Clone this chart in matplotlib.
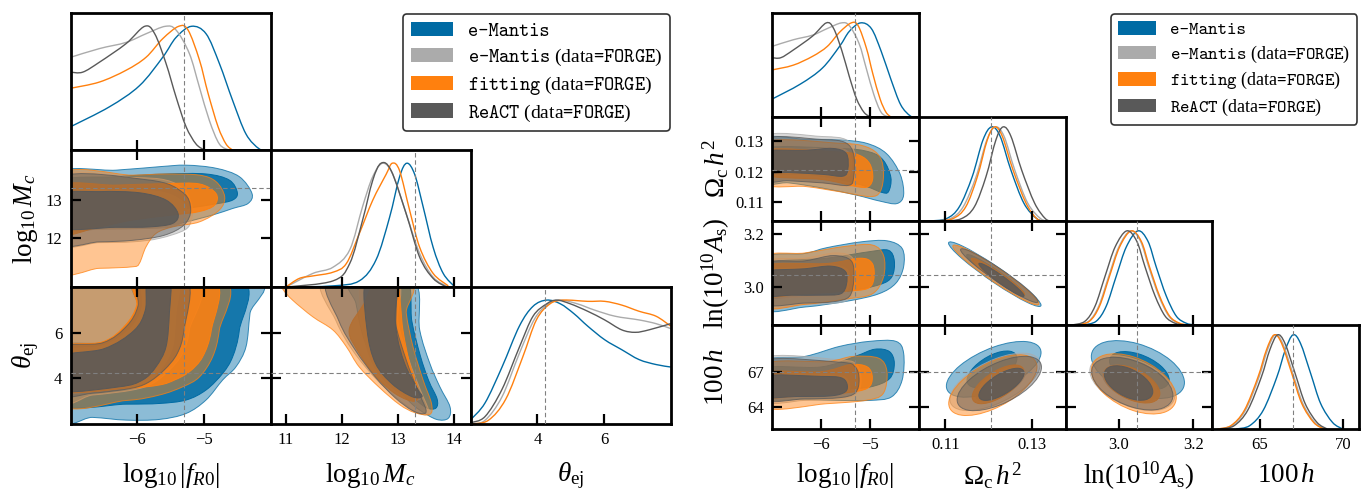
import numpy as np
import matplotlib.pyplot as plt
from matplotlib.path import Path
from matplotlib.patches import PathPatch, Patch
from matplotlib.transforms import Affine2D

plt.rcParams['font.family'] = ['Liberation Serif', 'DejaVu Serif']
plt.rcParams['mathtext.fontset'] = 'custom'
plt.rcParams['mathtext.rm'] = 'Liberation Serif'
plt.rcParams['mathtext.it'] = 'Liberation Serif:italic'
plt.rcParams['mathtext.bf'] = 'Liberation Serif:bold'

# models, in drawing order (names in typewriter, the rest in serif via mathtext)
colors = ['#006BA4', '#ABABAB', '#FF800E', '#595959']
labels = ['e-Mantis',
          r'e-Mantis$\mathrm{\ (data}$=FORGE$\mathrm{)}$',
          r'fitting$\mathrm{\ (data}$=FORGE$\mathrm{)}$',
          r'ReACT$\mathrm{\ (data}$=FORGE$\mathrm{)}$']

# ---------------- 1D marginals (x, normalised density), one list per model
fr0_pdf = [
    [(-7.0, 0.19), (-6.42, 0.35), (-5.97, 0.52), (-5.62, 0.75), (-5.42, 0.91), (-5.19, 1.0),
     (-4.97, 0.94), (-4.77, 0.70), (-4.57, 0.40), (-4.37, 0.13), (-4.17, 0.01), (-4.04, 0.0)],
    [(-7.0, 0.75), (-6.57, 0.82), (-6.17, 0.87), (-5.87, 0.94), (-5.58, 1.0), (-5.42, 0.97),
     (-5.22, 0.78), (-5.07, 0.51), (-4.92, 0.24), (-4.77, 0.05), (-4.62, 0.0)],
    [(-7.0, 0.50), (-6.57, 0.55), (-6.17, 0.645), (-5.87, 0.75), (-5.62, 0.90), (-5.38, 1.0),
     (-5.24, 0.97), (-5.07, 0.73), (-4.94, 0.46), (-4.79, 0.19), (-4.67, 0.05), (-4.57, 0.0)],
    [(-7.0, 0.63), (-6.82, 0.63), (-6.57, 0.71), (-6.17, 0.86), (-5.89, 1.0), (-5.74, 0.94),
     (-5.57, 0.70), (-5.42, 0.43), (-5.27, 0.19), (-5.12, 0.05), (-4.99, 0.0)],
]
mc_pdf = [
    [(11.0, 0.0), (11.84, 0.01), (12.31, 0.05), (12.61, 0.22), (12.85, 0.56), (13.03, 0.89),
     (13.16, 1.0), (13.30, 0.91), (13.45, 0.65), (13.63, 0.32), (13.81, 0.11), (14.02, 0.0)],
    [(11.0, 0.0), (11.48, 0.11), (11.84, 0.16), (12.14, 0.30), (12.37, 0.65), (12.55, 0.89),
     (12.73, 1.0), (12.91, 0.91), (13.15, 0.59), (13.39, 0.27), (13.63, 0.08), (13.9, 0.0)],
    [(11.0, 0.0), (11.24, 0.07), (11.48, 0.09), (11.84, 0.12), (12.08, 0.19), (12.31, 0.43),
     (12.55, 0.70), (12.79, 0.91), (12.9, 1.0), (13.03, 0.94), (13.21, 0.62), (13.39, 0.32),
     (13.63, 0.11), (13.9, 0.01)],
    [(11.0, 0.0), (11.84, 0.05), (12.14, 0.19), (12.37, 0.54), (12.55, 0.86), (12.70, 1.0),
     (12.88, 0.94), (13.15, 0.59), (13.39, 0.24), (13.63, 0.07), (13.87, 0.0)],
]
theta_pdf = [
    [(2.0, 0.035), (2.43, 0.17), (2.94, 0.46), (3.46, 0.79), (3.87, 0.95), (4.28, 1.0), (4.69, 0.97),
     (5.10, 0.89), (5.51, 0.79), (6.02, 0.68), (6.53, 0.60), (7.05, 0.52), (7.56, 0.48), (8.0, 0.46)],
    [(2.0, 0.0), (2.43, 0.03), (2.94, 0.22), (3.46, 0.57), (3.92, 0.85), (4.33, 0.97), (4.69, 1.0),
     (5.2, 0.97), (5.71, 0.92), (6.33, 0.87), (7.05, 0.84), (7.56, 0.81), (8.0, 0.77)],
    [(2.0, 0.0), (2.53, 0.03), (3.05, 0.2), (3.56, 0.54), (3.97, 0.84), (4.38, 0.97), (4.79, 1.0),
     (5.51, 0.99), (6.02, 0.99), (6.53, 0.96), (7.05, 0.91), (7.56, 0.87), (8.0, 0.79)],
    [(2.0, 0.01), (2.43, 0.06), (2.94, 0.28), (3.46, 0.62), (3.87, 0.87), (4.28, 0.97), (4.58, 1.0),
     (4.99, 0.97), (5.51, 0.91), (6.02, 0.84), (6.53, 0.76), (6.94, 0.74), (7.35, 0.76), (8.0, 0.81)],
]
omc_pdf = [
    [(0.1062, 0.0), (0.1102, 0.025), (0.1132, 0.15), (0.1162, 0.47), (0.1187, 0.86), (0.1207, 1.0),
     (0.1227, 0.90), (0.1252, 0.54), (0.1282, 0.19), (0.1312, 0.025), (0.1332, 0.0)],
    [(0.1071, 0.0), (0.1111, 0.025), (0.1141, 0.15), (0.1171, 0.47), (0.1196, 0.86), (0.1216, 1.0),
     (0.1236, 0.90), (0.1261, 0.54), (0.1291, 0.19), (0.1321, 0.025), (0.1341, 0.0)],
    [(0.1077, 0.0), (0.1117, 0.025), (0.1147, 0.15), (0.1174, 0.47), (0.1197, 0.86), (0.1214, 1.0),
     (0.1232, 0.90), (0.1257, 0.54), (0.1287, 0.19), (0.1312, 0.025), (0.1330, 0.0)],
    [(0.1097, 0.0), (0.1137, 0.025), (0.1167, 0.15), (0.1194, 0.47), (0.1217, 0.86), (0.1234, 1.0),
     (0.1252, 0.90), (0.1277, 0.54), (0.1307, 0.19), (0.1332, 0.025), (0.1347, 0.0)],
]
as_pdf = [
    [(2.904, 0.0), (2.939, 0.04), (2.966, 0.2), (2.993, 0.52), (3.02, 0.83), (3.051, 1.0),
     (3.078, 0.89), (3.1, 0.62), (3.127, 0.31), (3.154, 0.095), (3.18, 0.02), (3.203, 0.0)],
    [(2.884, 0.0), (2.919, 0.04), (2.946, 0.2), (2.973, 0.52), (3.0, 0.83), (3.031, 1.0),
     (3.058, 0.89), (3.08, 0.62), (3.107, 0.31), (3.134, 0.095), (3.16, 0.02), (3.183, 0.0)],
    [(2.886, 0.0), (2.921, 0.04), (2.948, 0.2), (2.975, 0.52), (3.002, 0.83), (3.033, 1.0),
     (3.06, 0.89), (3.082, 0.62), (3.109, 0.31), (3.136, 0.095), (3.162, 0.02), (3.185, 0.0)],
    [(2.874, 0.0), (2.909, 0.04), (2.936, 0.2), (2.963, 0.52), (2.99, 0.83), (3.021, 1.0),
     (3.048, 0.89), (3.07, 0.62), (3.097, 0.31), (3.124, 0.095), (3.15, 0.02), (3.173, 0.0)],
]
h_pdf = [
    [(63.58, 0.0), (64.39, 0.036), (65.2, 0.2), (66.01, 0.55), (66.52, 0.84), (66.98, 1.0),
     (67.43, 0.91), (68.04, 0.59), (68.64, 0.27), (69.35, 0.07), (69.96, 0.0)],
    [(62.51, 0.0), (63.32, 0.036), (64.13, 0.2), (64.94, 0.55), (65.45, 0.84), (65.91, 1.0),
     (66.36, 0.91), (66.97, 0.59), (67.57, 0.27), (68.28, 0.07), (68.89, 0.0)],
    [(62.45, 0.0), (63.26, 0.036), (64.07, 0.2), (64.88, 0.55), (65.39, 0.84), (65.85, 1.0),
     (66.3, 0.91), (66.91, 0.59), (67.51, 0.27), (68.22, 0.07), (68.83, 0.0)],
    [(62.65, 0.0), (63.46, 0.036), (64.27, 0.2), (65.08, 0.55), (65.59, 0.84), (66.05, 1.0),
     (66.5, 0.91), (67.11, 0.59), (67.71, 0.27), (68.42, 0.07), (69.03, 0.0)],
]

# ---------------- 2D contours: (95% outline, 68% outline) per model
fr0_mc_cont = [
    ([(-7.2, 13.70), (-6.32, 13.78), (-5.67, 13.87), (-5.27, 13.91), (-4.82, 13.83), (-4.47, 13.61),
      (-4.28, 13.17), (-4.34, 12.91), (-4.57, 12.78), (-4.87, 12.61), (-5.27, 12.43), (-5.67, 12.30),
      (-6.07, 12.28), (-6.57, 12.30), (-7.2, 12.35)],
     [(-7.2, 13.48), (-6.32, 13.61), (-5.57, 13.68), (-4.97, 13.68), (-4.62, 13.52), (-4.5, 13.19),
      (-4.57, 13.0), (-4.82, 12.90), (-5.27, 12.78), (-5.82, 12.65), (-6.42, 12.57), (-7.2, 12.57)]),
    ([(-7.2, 13.61), (-6.07, 13.59), (-5.57, 13.52), (-5.29, 13.26), (-5.18, 12.83), (-5.19, 12.48),
      (-5.29, 12.22), (-5.67, 12.0), (-6.07, 11.91), (-6.57, 11.89), (-7.2, 11.89)],
     [(-7.2, 13.17), (-6.32, 13.26), (-5.67, 13.22), (-5.35, 13.0), (-5.25, 12.7), (-5.3, 12.45),
      (-5.5, 12.3), (-5.82, 12.26), (-6.57, 12.24), (-7.2, 12.22)]),
    ([(-7.2, 13.61), (-6.07, 13.65), (-5.57, 13.68), (-5.07, 13.65), (-4.82, 13.48), (-4.69, 13.09),
      (-4.77, 12.74), (-5.07, 12.43), (-5.47, 12.30), (-5.72, 12.13), (-5.87, 11.78), (-5.97, 11.35),
      (-6.07, 11.26), (-6.57, 11.22), (-7.2, 11.22)],
     [(-7.2, 13.35), (-6.32, 13.39), (-5.57, 13.43), (-5.07, 13.42), (-4.82, 13.17), (-4.84, 12.87),
      (-5.07, 12.70), (-5.47, 12.61), (-6.07, 12.48), (-6.57, 12.30), (-7.2, 12.13)]),
    ([(-7.2, 13.57), (-5.82, 13.52), (-5.32, 13.2), (-5.2, 12.75), (-5.3, 12.35), (-5.6, 12.08),
      (-6.07, 11.95), (-6.57, 11.91), (-7.2, 11.91)],
     [(-7.2, 13.13), (-6.57, 13.22), (-5.97, 13.19), (-5.57, 13.0), (-5.39, 12.65), (-5.47, 12.39),
      (-5.82, 12.30), (-6.32, 12.29), (-7.2, 12.29)]),
]
fr0_theta_cont = [
    ([(-7.2, 7.2), (-6.5, 8.3), (-4.24, 8.3), (-4.31, 6.85), (-4.37, 5.39), (-4.52, 4.51), (-4.72, 3.93),
      (-4.97, 3.05), (-5.27, 2.46), (-5.67, 2.2), (-6.17, 2.17), (-6.67, 2.29), (-7.2, 2.32)],
     [(-5.97, 8.3), (-4.43, 8.3), (-4.47, 6.12), (-4.57, 4.95), (-4.72, 4.22), (-4.97, 3.49),
      (-5.27, 3.05), (-5.67, 2.9), (-6.17, 2.87), (-7.2, 2.87), (-7.2, 5.3), (-6.52, 5.58),
      (-6.17, 6.3), (-6.0, 7.18)]),
    ([(-7.2, 8.3), (-5.17, 8.3), (-5.22, 6.12), (-5.32, 5.1), (-5.52, 4.36), (-5.77, 3.78),
      (-6.07, 3.49), (-6.67, 3.27), (-7.2, 3.2)],
     [(-5.9, 8.3), (-5.4, 8.3), (-5.42, 6.85), (-5.47, 5.39), (-5.62, 4.51), (-5.82, 3.93),
      (-6.17, 3.6), (-7.2, 3.45), (-7.2, 5.1), (-6.5, 5.45), (-6.1, 6.2), (-5.93, 7.1)]),
    ([(-7.2, 7.3), (-6.4, 8.3), (-4.71, 8.3), (-4.77, 6.12), (-4.87, 4.95), (-5.07, 4.06),
      (-5.32, 3.63), (-5.67, 3.27), (-6.17, 3.03), (-7.2, 2.97)],
     [(-5.99, 8.3), (-4.84, 8.3), (-4.89, 6.12), (-5.02, 4.95), (-5.22, 4.29), (-5.44, 3.93),
      (-5.67, 3.71), (-6.17, 3.56), (-7.2, 3.49), (-7.2, 5.3), (-6.52, 5.6), (-6.18, 6.33),
      (-6.01, 7.2)]),
    ([(-5.97, 8.3), (-5.25, 8.3), (-5.3, 6.12), (-5.4, 5.1), (-5.6, 4.36), (-5.85, 3.8),
      (-6.12, 3.55), (-6.67, 3.35), (-7.2, 3.3), (-7.2, 5.27), (-6.52, 5.56), (-6.16, 6.29),
      (-5.99, 7.17)],
     [(-5.84, 8.3), (-5.52, 8.3), (-5.52, 6.85), (-5.57, 5.39), (-5.72, 4.51), (-5.92, 3.93),
      (-6.27, 3.63), (-7.2, 3.49), (-7.2, 4.9), (-6.5, 5.3), (-6.05, 6.1), (-5.88, 7.0)]),
]
mc_theta_cont = [
    ([(12.15, 8.3), (13.27, 8.3), (13.39, 6.12), (13.57, 4.66), (13.75, 3.63), (13.93, 2.76),
      (13.9, 2.25), (13.69, 2.2), (13.39, 2.61), (13.2, 3.0), (12.95, 3.7), (12.7, 4.5),
      (12.45, 5.4), (12.33, 6.3), (12.25, 7.3)],
     [(12.45, 8.3), (13.15, 8.3), (13.25, 6.5), (13.4, 5.0), (13.55, 3.9), (13.7, 3.1),
      (13.68, 2.7), (13.52, 2.7), (13.3, 3.1), (13.05, 3.7), (12.8, 4.5), (12.6, 5.5), (12.5, 6.8)]),
    ([(11.66, 8.3), (12.95, 8.3), (13.0, 6.5), (13.2, 4.8), (13.4, 3.5), (13.55, 2.6),
      (13.5, 2.4), (13.3, 2.55), (13.0, 3.1), (12.6, 4.0), (12.2, 5.2), (11.9, 6.5)],
     [(12.35, 8.3), (12.9, 8.3), (12.95, 6.12), (13.1, 4.66), (13.32, 3.55), (13.4, 3.1),
      (13.2, 3.12), (12.85, 3.7), (12.55, 4.66), (12.38, 6.12)]),
    ([(10.9, 8.3), (13.12, 8.3), (13.15, 6.85), (13.27, 5.39), (13.45, 3.93), (13.6, 2.9),
      (13.57, 2.42), (13.3, 2.5), (13.03, 2.85), (12.67, 3.6), (12.31, 4.5), (12.08, 5.39),
      (11.84, 6.12), (11.48, 6.7), (11.12, 7.43), (10.95, 7.9)],
     [(12.61, 8.3), (12.97, 8.3), (13.09, 6.12), (13.21, 4.66), (13.36, 3.49), (13.3, 3.0),
      (12.97, 3.3), (12.61, 4.07), (12.31, 5.1), (12.13, 6.12), (12.4, 7.3)]),
    ([(11.75, 8.3), (12.9, 8.3), (12.95, 6.5), (13.15, 4.8), (13.35, 3.5), (13.5, 2.65),
      (13.45, 2.45), (13.25, 2.6), (12.95, 3.15), (12.6, 4.05), (12.25, 5.2), (11.95, 6.5)],
     [(12.43, 8.3), (12.93, 8.3), (12.97, 6.12), (13.12, 4.66), (13.35, 3.55), (13.43, 3.2),
      (13.25, 3.2), (12.9, 3.75), (12.6, 4.66), (12.45, 6.12)]),
]
fr0_omc_cont = [
    ([(-7.2, 0.1305), (-6.31, 0.1306), (-5.62, 0.1304), (-5.07, 0.1293), (-4.66, 0.1259), (-4.38, 0.1191),
      (-4.31, 0.1123), (-4.45, 0.1095), (-4.79, 0.1103), (-5.28, 0.1123), (-5.97, 0.1146),
      (-6.66, 0.1163), (-7.2, 0.1168)],
     [(-7.2, 0.1276), (-5.62, 0.1276), (-5.0, 0.1264), (-4.72, 0.1236), (-4.57, 0.1180), (-4.62, 0.1134),
      (-4.76, 0.1132), (-5.07, 0.1151), (-5.62, 0.1174), (-6.31, 0.1191), (-7.2, 0.1197)]),
    ([(-7.2, 0.1315), (-5.97, 0.1315), (-5.48, 0.1304), (-5.31, 0.1259), (-5.31, 0.118), (-5.41, 0.1151),
      (-5.97, 0.1163), (-6.66, 0.1174), (-7.2, 0.118)],
     [(-7.2, 0.1268), (-6.31, 0.1273), (-5.7, 0.1278), (-5.42, 0.126), (-5.38, 0.1205), (-5.5, 0.1182),
      (-5.97, 0.1188), (-6.66, 0.1194), (-7.2, 0.1197)]),
    ([(-7.2, 0.1295), (-5.62, 0.1293), (-5.07, 0.1281), (-4.79, 0.1247), (-4.72, 0.1191), (-4.79, 0.1134),
      (-5.0, 0.1118), (-5.62, 0.1134), (-6.31, 0.1151), (-7.2, 0.1163)],
     [(-7.2, 0.127), (-5.62, 0.1264), (-5.21, 0.1253), (-5.0, 0.1225), (-4.94, 0.118), (-5.03, 0.1151),
      (-5.28, 0.1151), (-5.97, 0.1174), (-7.2, 0.1191)]),
    ([(-7.2, 0.1305), (-5.97, 0.1305), (-5.5, 0.1295), (-5.33, 0.1255), (-5.33, 0.1185), (-5.43, 0.1155),
      (-5.97, 0.1163), (-6.66, 0.117), (-7.2, 0.1175)],
     [(-7.2, 0.1264), (-6.31, 0.127), (-5.76, 0.1276), (-5.48, 0.1259), (-5.45, 0.1208), (-5.55, 0.1185),
      (-5.97, 0.1191), (-6.66, 0.1197), (-7.2, 0.12)]),
]
fr0_as_cont = [
    ([(-7.2, 3.105), (-6.33, 3.128), (-5.88, 3.15), (-5.18, 3.172), (-4.65, 3.176), (-4.34, 3.147),
      (-4.31, 3.078), (-4.47, 3.015), (-4.82, 2.975), (-5.44, 2.948), (-6.33, 2.925), (-7.2, 2.92)],
     [(-7.2, 3.085), (-5.88, 3.11), (-5.0, 3.135), (-4.62, 3.14), (-4.5, 3.1), (-4.55, 3.04),
      (-4.8, 3.01), (-5.44, 2.985), (-6.33, 2.97), (-7.2, 2.965)]),
    ([(-7.2, 3.09), (-6.33, 3.11), (-5.7, 3.13), (-5.35, 3.11), (-5.3, 3.03), (-5.4, 2.96),
      (-5.7, 2.94), (-6.33, 2.935), (-7.2, 2.93)],
     [(-7.2, 3.06), (-6.33, 3.075), (-5.78, 3.085), (-5.45, 3.065), (-5.43, 3.01), (-5.55, 2.975),
      (-6.0, 2.968), (-7.2, 2.965)]),
    ([(-7.2, 3.11), (-6.33, 3.13), (-5.5, 3.155), (-4.95, 3.16), (-4.72, 3.12), (-4.72, 3.04),
      (-4.95, 2.975), (-5.5, 2.955), (-6.33, 2.935), (-7.2, 2.93)],
     [(-7.2, 3.08), (-5.88, 3.09), (-5.2, 3.11), (-4.95, 3.09), (-4.92, 3.03), (-5.05, 2.995),
      (-5.5, 2.985), (-6.33, 2.975), (-7.2, 2.97)]),
    ([(-7.2, 3.085), (-6.33, 3.1), (-5.75, 3.12), (-5.38, 3.1), (-5.33, 3.03), (-5.42, 2.965),
      (-5.75, 2.945), (-6.33, 2.94), (-7.2, 2.94)],
     [(-7.2, 3.055), (-6.33, 3.07), (-5.8, 3.08), (-5.5, 3.06), (-5.48, 3.01), (-5.6, 2.975),
      (-6.0, 2.97), (-6.6, 2.97), (-7.2, 2.97)]),
]
fr0_h_cont = [
    ([(-7.2, 67.86), (-6.33, 68.29), (-5.62, 69.14), (-5.0, 69.57), (-4.47, 69.57), (-4.31, 68.57),
      (-4.34, 66.29), (-4.56, 64.86), (-5.0, 64.57), (-5.62, 64.57), (-6.33, 64.66), (-7.2, 64.86)],
     [(-7.2, 67.3), (-6.0, 67.4), (-5.3, 68.3), (-4.9, 68.9), (-4.6, 68.7), (-4.5, 67.7),
      (-4.6, 66.4), (-5.0, 65.7), (-5.6, 65.5), (-6.33, 65.4), (-7.2, 65.4)]),
    ([(-7.2, 68.14), (-5.62, 68.0), (-5.27, 67.57), (-5.18, 66.29), (-5.27, 65.14), (-5.62, 64.71),
      (-6.33, 64.57), (-7.2, 64.57)],
     [(-7.2, 66.7), (-6.0, 66.75), (-5.55, 66.6), (-5.42, 66.0), (-5.45, 65.25), (-5.8, 64.9),
      (-6.5, 64.85), (-7.2, 64.85)]),
    ([(-7.2, 67.57), (-5.88, 67.86), (-5.35, 68.29), (-4.82, 68.14), (-4.65, 67.0), (-4.73, 65.14),
      (-5.09, 64.57), (-5.88, 64.29), (-7.2, 64.0)],
     [(-7.2, 66.9), (-6.0, 67.0), (-5.4, 67.6), (-5.05, 67.4), (-4.95, 66.5), (-5.05, 65.6),
      (-5.5, 65.2), (-6.3, 65.0), (-7.2, 64.9)]),
    ([(-7.2, 67.9), (-5.62, 67.8), (-5.3, 67.4), (-5.22, 66.3), (-5.3, 65.2), (-5.62, 64.8),
      (-6.33, 64.7), (-7.2, 64.7)],
     [(-7.2, 66.6), (-6.0, 66.6), (-5.6, 66.5), (-5.47, 66.0), (-5.5, 65.3), (-5.8, 64.95),
      (-6.5, 64.9), (-7.2, 64.9)]),
]
# near-gaussian pairs: (centre x, centre y, half-width x, half-height y, correlation)
omc_as_ell = [
    ((0.12145, 3.0495, 0.01075, 0.1225, -0.96), (0.1215, 3.049, 0.0066, 0.075, -0.96)),
    ((0.1220, 3.045, 0.0097, 0.112, -0.96), (0.1225, 3.036, 0.0058, 0.067, -0.96)),
    ((0.1217, 3.0465, 0.0100, 0.1135, -0.96), (0.1222, 3.040, 0.0062, 0.070, -0.96)),
    ((0.1225, 3.044, 0.0090, 0.1020, -0.96), (0.1230, 3.028, 0.00525, 0.063, -0.96)),
]
omc_h_ell = [
    ((0.1212, 67.2, 0.0110, 2.36, 0.6), (0.1208, 67.2, 0.0058, 1.55, 0.6)),
    ((0.1215, 66.14, 0.0105, 2.43, 0.6), (0.1228, 66.0, 0.0058, 1.50, 0.65)),
    ((0.1210, 65.86, 0.01025, 2.57, 0.6), (0.1222, 65.93, 0.0060, 1.64, 0.65)),
    ((0.1225, 66.0, 0.0098, 2.30, 0.6), (0.1230, 65.93, 0.00525, 1.36, 0.7)),
]
as_h_ell = [
    ((3.051, 67.18, 0.125, 2.45, -0.45), (3.055, 67.1, 0.080, 1.60, -0.5)),
    ((3.036, 66.04, 0.114, 2.33, -0.45), (3.030, 66.0, 0.074, 1.55, -0.5)),
    ((3.040, 65.97, 0.114, 2.55, -0.45), (3.035, 65.95, 0.075, 1.60, -0.5)),
    ((3.036, 65.99, 0.109, 2.23, -0.45), (3.026, 66.04, 0.065, 1.46, -0.5)),
]

# fiducial values (dashed lines)
truth_left = [-5.3, 13.31, 4.23]
truth_right = [-5.3, 0.1205, 3.048, 67.0]


def smooth_path(pts, closed=True):
    # catmull-rom through the read points, drawn as cubic bezier
    p = np.asarray(pts, float)
    n = len(p)
    verts = [p[0]]
    codes = [Path.MOVETO]
    for i in range(n if closed else n - 1):
        if closed:
            p0, p1, p2, p3 = p[(i - 1) % n], p[i], p[(i + 1) % n], p[(i + 2) % n]
        else:
            p0, p1, p2, p3 = p[max(i - 1, 0)], p[i], p[i + 1], p[min(i + 2, n - 1)]
        verts += [p1 + (p2 - p0) / 6, p2 - (p3 - p1) / 6, p2]
        codes += [Path.CURVE4] * 3
    if closed:
        verts.append(p[0])
        codes.append(Path.CLOSEPOLY)
    return Path(verts, codes)


def ellipse_path(cx, cy, sx, sy, rho):
    m = np.array([[sx, 0, cx], [sy * rho, sy * np.sqrt(1 - rho ** 2), cy], [0, 0, 1]])
    return Affine2D(m).transform_path(Path.unit_circle())


def draw_2d(ax, cont, ell=False):
    for c, (outer, inner) in zip(colors, cont):
        for shape, a in ((outer, 0.45), (inner, 0.85)):
            path = ellipse_path(*shape) if ell else smooth_path(shape)
            ax.add_patch(PathPatch(path, facecolor=c, edgecolor='none', alpha=a))
            ax.add_patch(PathPatch(path, facecolor='none', edgecolor=c, lw=0.7, alpha=min(1, a + 0.3)))


def draw_1d(ax, pdfs):
    for c, pts in zip(colors, pdfs):
        ax.add_patch(PathPatch(smooth_path(pts, closed=False), facecolor='none', edgecolor=c, lw=1.0))


def style(ax, diag, bottom, left):
    for s in ax.spines.values():
        s.set_linewidth(2.0)
    ax.tick_params(direction='in', length=7, width=1.6, labelsize=12, pad=6,
                   top=not diag, right=not diag, left=not diag,
                   labelbottom=bottom, labelleft=left)
    if diag:
        ax.set_yticks([])


def corner(fig, x0, y0, cw, rh, lims, ticks, yticks, truth, pdfs, pairs, names, lab_x):
    W, H = fig.get_size_inches() * fig.dpi
    n = len(lims)
    for i in range(n):
        for j in range(i + 1):
            ax = fig.add_axes([(x0 + j * cw) / W, 1 - (y0 + (i + 1) * rh) / H, cw / W, rh / H])
            ax.set_xlim(lims[j])
            ax.set_xticks(ticks[j])
            ax.axvline(truth[j], color='#808080', lw=0.8, ls=(0, (4, 2.5)), zorder=5)
            if i == j:
                draw_1d(ax, pdfs[i])
                ax.set_ylim(0, 1.105)
            else:
                cont, ell = pairs[(i, j)]
                draw_2d(ax, cont, ell)
                ax.set_ylim(lims[i])
                ax.set_yticks(yticks[i])
                ax.axhline(truth[i], color='#808080', lw=0.8, ls=(0, (4, 2.5)), zorder=5)
            style(ax, i == j, i == n - 1, j == 0 and i > 0)
        if i > 0:
            fig.text(lab_x / W, 1 - (y0 + (i + 0.5) * rh) / H, names[i], rotation=90,
                     ha='center', va='center', fontsize=19.5)
    for j in range(n):
        fig.text((x0 + (j + 0.5) * cw) / W, 1 - 476 / H, names[j],
                 ha='center', va='center', fontsize=19.5)


fig = plt.figure(figsize=(13.7, 4.91), dpi=100)

left_pairs = {(1, 0): (fr0_mc_cont, False), (2, 0): (fr0_theta_cont, False),
              (2, 1): (mc_theta_cont, False)}
corner(fig, 70.7, 13.3, 200.0, 136.9,
       [(-7, -4), (10.73, 14.3), (2, 8)],
       [[-6, -5], [11, 12, 13, 14], [4, 6]],
       [None, [12, 13], [4, 6]],
       truth_left, [fr0_pdf, mc_pdf, theta_pdf], left_pairs,
       [r'$\log_{10}|f_{R0}|$', r'$\log_{10}M_c$', r'$\theta_{\rm ej}$'], 26)

right_pairs = {(1, 0): (fr0_omc_cont, False), (2, 0): (fr0_as_cont, False),
               (3, 0): (fr0_h_cont, False), (2, 1): (omc_as_ell, True),
               (3, 1): (omc_h_ell, True), (3, 2): (as_h_ell, True)}
corner(fig, 772, 13, 146.8, 104,
       [(-7, -4), (0.1038, 0.1379), (2.857, 3.251), (62.15, 70.95)],
       [[-6, -5], [0.11, 0.13], [3.0, 3.2], [65, 70]],
       [None, [0.11, 0.12, 0.13], [3.0, 3.2], [64, 67]],
       truth_right, [fr0_pdf, omc_pdf, as_pdf, h_pdf], right_pairs,
       [r'$\log_{10}|f_{R0}|$', r'$\Omega_{\rm c}\,h^2$', r'$\ln(10^{10}A_{\rm s})$', r'$100\,h$'], 716)

handles = [Patch(facecolor=c, edgecolor='none') for c in colors]
for x, fs, hl in ((403, 14, 2.16), (1111, 13, 2.08)):
    leg = fig.legend(handles, labels, loc='upper left', bbox_to_anchor=(x / 1370, 1 - 14 / 491),
                     borderaxespad=0, prop={'family': 'cmtt10', 'size': fs},
                     handlelength=hl, handleheight=0.77, handletextpad=0.77, labelspacing=0.3,
                     borderpad=0.4, fancybox=True, framealpha=1, edgecolor='#333333')
    leg.get_frame().set_linewidth(1.2)

plt.savefig('out.png', dpi=100)
